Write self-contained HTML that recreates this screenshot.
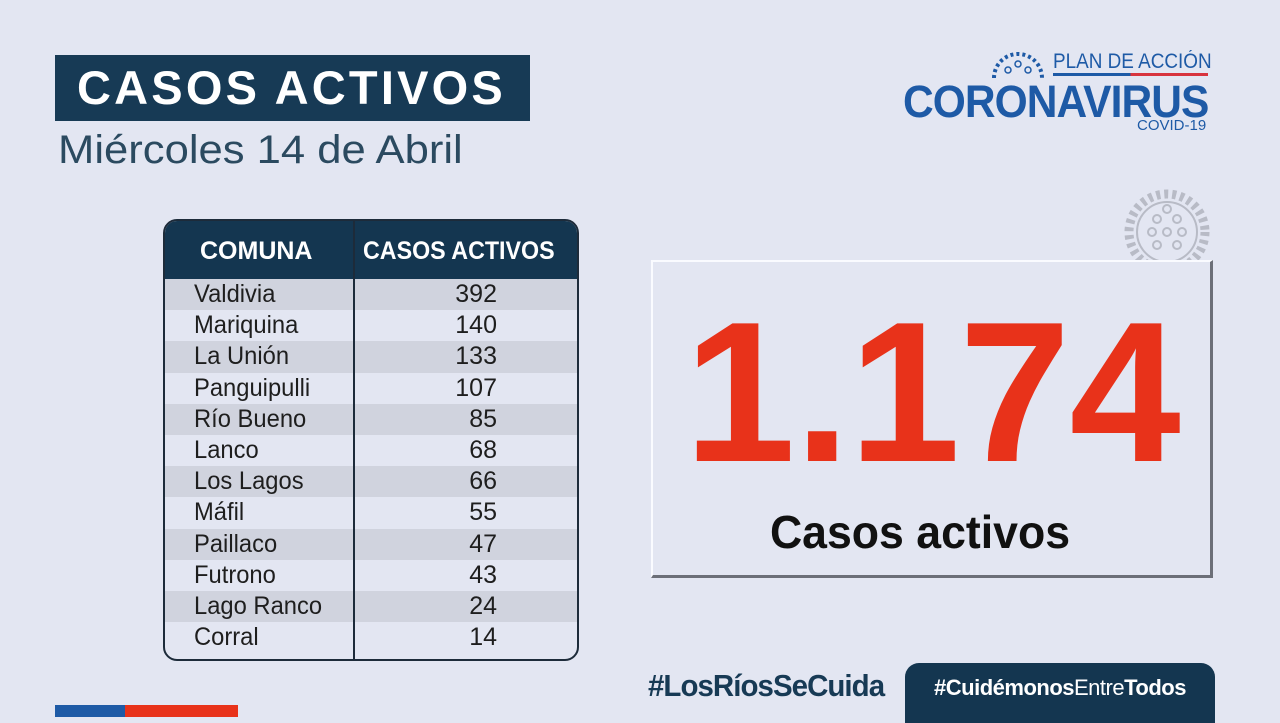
<!DOCTYPE html>
<html><head><meta charset="utf-8"><style>
*{margin:0;padding:0;box-sizing:border-box}
body{width:1280px;height:717px;background:#e3e6f2;position:relative;overflow:hidden;font-family:"Liberation Sans",sans-serif}
.abs{position:absolute}
#title{left:55px;top:55px;width:475px;height:66px;background:#173a55;color:#fff;font-weight:bold;font-size:47px;letter-spacing:3.2px;line-height:66px;padding-left:22px}
#sub{left:58px;top:128px;font-size:40px;color:#2b4a60;transform:scaleX(1.09);transform-origin:left}
#tbl{left:163px;top:219px;width:416px;height:442px;border:2px solid #1d2b3a;border-radius:14px;overflow:hidden;background:#e3e6f2}
#hdr{height:58px;background:#143650;color:#fff;font-weight:bold;font-size:25px;position:relative}
.row{position:relative;height:31.2px;font-size:25px;color:#1e1e1e;line-height:31px}
.row:nth-child(odd){background:#d0d3de}
.c1{position:absolute;left:29px;transform:scaleX(.95);transform-origin:left}
.c2{position:absolute;right:80px}
#div{left:353px;top:219px;width:2px;height:442px;background:#1d2b3a}
#box{left:651px;top:260px;width:562px;height:318px;border-top:2px solid #fafbff;border-left:2px solid #fafbff;border-right:3px solid #6c6f78;border-bottom:3px solid #6c6f78}
#num{left:651px;top:278px;width:562px;text-align:center;font-size:200px;font-weight:bold;color:#e8321a;letter-spacing:-1px;line-height:230px}
#lbl{left:639px;top:505px;width:562px;text-align:center;font-size:46px;font-weight:bold;color:#111;transform:scaleX(.97)}
#logo1{left:1053px;top:50px;font-size:21px;color:#1e5aa6;transform:scaleX(.9);transform-origin:left}
#logoline{left:1053px;top:73px;width:155px;height:3px;background:linear-gradient(90deg,#1e5aa6 50%,#d8343e 50%)}
#logo2{left:903px;top:76px;font-size:45px;font-weight:bold;color:#1e5aa6;letter-spacing:-1px;transform:scaleX(.945);transform-origin:left}
#logo3{left:1137px;top:117px;font-size:15px;color:#1e5aa6}
#hash1{left:648px;top:668px;font-size:31px;font-weight:bold;color:#173a55;transform:scaleX(.95);transform-origin:left;letter-spacing:-1px}
#hash2{left:905px;top:663px;width:310px;height:60px;background:#143650;border-radius:14px 14px 0 0;color:#fff;font-size:22px;line-height:50px;text-align:center;letter-spacing:-.5px}
#bar1{left:55px;top:705px;width:70px;height:12px;background:#1e5aa6}
#bar2{left:125px;top:705px;width:113px;height:12px;background:#e8321a}
</style></head><body>
<div id="title" class="abs">CASOS ACTIVOS</div>
<div id="sub" class="abs">Miércoles 14 de Abril</div>

<div id="logo1" class="abs">PLAN DE ACCIÓN</div>
<div id="logoline" class="abs"></div>
<div id="logo2" class="abs">CORONAVIRUS</div>
<div id="logo3" class="abs">COVID-19</div>
<svg class="abs" style="left:988px;top:40px" width="60" height="40">
<path d="M6 38 A24 24 0 0 1 54 38" fill="none" stroke="#1e5aa6" stroke-width="4" stroke-dasharray="3 3"/>
<circle cx="30" cy="24" r="3" fill="none" stroke="#1e5aa6" stroke-width="1.5"/><circle cx="20" cy="30" r="3" fill="none" stroke="#1e5aa6" stroke-width="1.5"/><circle cx="40" cy="30" r="3" fill="none" stroke="#1e5aa6" stroke-width="1.5"/></svg>
<svg class="abs" style="left:1120px;top:185px" width="95" height="75">
<circle cx="47" cy="47" r="38" fill="none" stroke="#b8bbc6" stroke-width="9" stroke-dasharray="4 4"/>
<circle cx="47" cy="47" r="30" fill="none" stroke="#b8bbc6" stroke-width="2"/>
<g fill="none" stroke="#b8bbc6" stroke-width="2"><circle cx="47" cy="47" r="4"/><circle cx="32" cy="47" r="4"/><circle cx="62" cy="47" r="4"/><circle cx="37" cy="34" r="4"/><circle cx="57" cy="34" r="4"/><circle cx="47" cy="24" r="4"/><circle cx="37" cy="60" r="4"/><circle cx="57" cy="60" r="4"/></g></svg>

<div id="tbl" class="abs">
<div id="hdr">
<span class="abs" style="left:35px;top:16px">COMUNA</span>
<span class="abs" style="left:198px;top:16px;transform:scaleX(.93);transform-origin:left">CASOS ACTIVOS</span></div>
<div id="rows"></div>
</div>
<div id="div" class="abs"></div>

<div id="box" class="abs"></div>
<div id="num" class="abs">1.174</div>
<div id="lbl" class="abs">Casos activos</div>

<div id="hash1" class="abs">#LosRíosSeCuida</div>
<div id="hash2" class="abs"><b>#Cuidémonos</b>Entre<b>Todos</b></div>
<div id="bar1" class="abs"></div>
<div id="bar2" class="abs"></div>
<script>
const comunas=["Valdivia","Mariquina","La Unión","Panguipulli","Río Bueno","Lanco","Los Lagos","Máfil","Paillaco","Futrono","Lago Ranco","Corral"];
const casos=[392,140,133,107,85,68,66,55,47,43,24,14];
const rows=document.getElementById('rows');
comunas.forEach((c,i)=>{
const r=document.createElement('div');r.className='row';


const a=document.createElement('span');a.className='c1';a.textContent=c;


const b=document.createElement('span');b.className='c2';b.textContent=casos[i];


r.appendChild(a);r.appendChild(b);rows.appendChild(r);});
</script>
</body></html>
